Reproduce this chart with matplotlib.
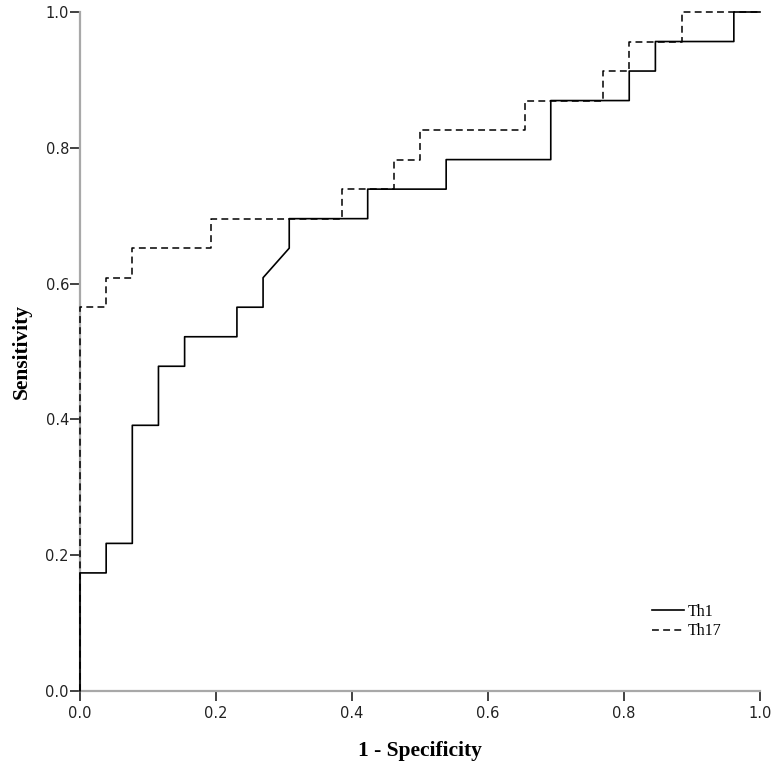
import numpy as np
import matplotlib
matplotlib.use("Agg")
import matplotlib.pyplot as plt

# ROC steps: counts of false positives (of 26) and true positives (of 23)
n_neg = 26
n_pos = 23

th1_fp = [0, 0, 1, 1, 2, 2, 3, 3, 4, 4, 6, 6, 7, 7, 8, 8, 11, 11, 14, 14, 18, 18, 21, 21, 22, 22, 25, 25, 26]
th1_tp = [0, 4, 4, 5, 5, 9, 9, 11, 11, 12, 12, 13, 13, 14, 15, 16, 16, 17, 17, 18, 18, 20, 20, 21, 21, 22, 22, 23, 23]

th17_fp = [0, 0, 1, 1, 2, 2, 5, 5, 10, 10, 12, 12, 13, 13, 17, 17, 20, 20, 21, 21, 23, 23, 26]
th17_tp = [0, 13, 13, 14, 14, 15, 15, 16, 16, 17, 17, 18, 18, 19, 19, 20, 20, 21, 21, 22, 22, 23, 23]

ticks = [0.0, 0.2, 0.4, 0.6, 0.8, 1.0]
tick_labels = ["0.0", "0.2", "0.4", "0.6", "0.8", "1.0"]

fig = plt.figure(figsize=(7.78, 7.67), dpi=100)
ax = fig.add_axes([80/778, 76/767, 680/778, 679/767])

x1 = np.array(th1_fp) / n_neg
y1 = np.array(th1_tp) / n_pos
x17 = np.array(th17_fp) / n_neg
y17 = np.array(th17_tp) / n_pos

ax.plot(x1, y1, color="black", lw=1.2, label="Th1", clip_on=False, zorder=3)
ax.plot(x17, y17, color="black", lw=1.1, dashes=(4.5, 2.8), label="Th17", clip_on=False, zorder=3)

ax.set_xlim(0, 1)
ax.set_ylim(0, 1)
ax.set_xticks(ticks)
ax.set_xticklabels(tick_labels)
ax.set_yticks(ticks)
ax.set_yticklabels(tick_labels)

for s in ["top", "right"]:
    ax.spines[s].set_visible(False)
for s in ["left", "bottom"]:
    ax.spines[s].set_color("#a8a8a8")
    ax.spines[s].set_linewidth(1.6)

ax.tick_params(axis="both", direction="out", length=7, width=1.3, color="#333333",
               labelsize=10.5, labelcolor="#222222")
ax.tick_params(axis="y", pad=1)
ax.tick_params(axis="x", pad=4)

serif = ["Liberation Serif", "DejaVu Serif"]
ax.set_xlabel("1 - Specificity", family=serif, fontweight="bold", fontsize=15.5, labelpad=14)
ax.set_ylabel("Sensitivity", family=serif, fontweight="bold", fontsize=15.5, labelpad=10)

leg = ax.legend(loc="upper left", bbox_to_anchor=(0.841, 0.128), frameon=False,
                borderpad=0, borderaxespad=0, handlelength=2.0, handletextpad=0.25,
                labelspacing=0.2, prop={"family": serif, "size": 11.5})

fig.savefig("out.png", dpi=100)
